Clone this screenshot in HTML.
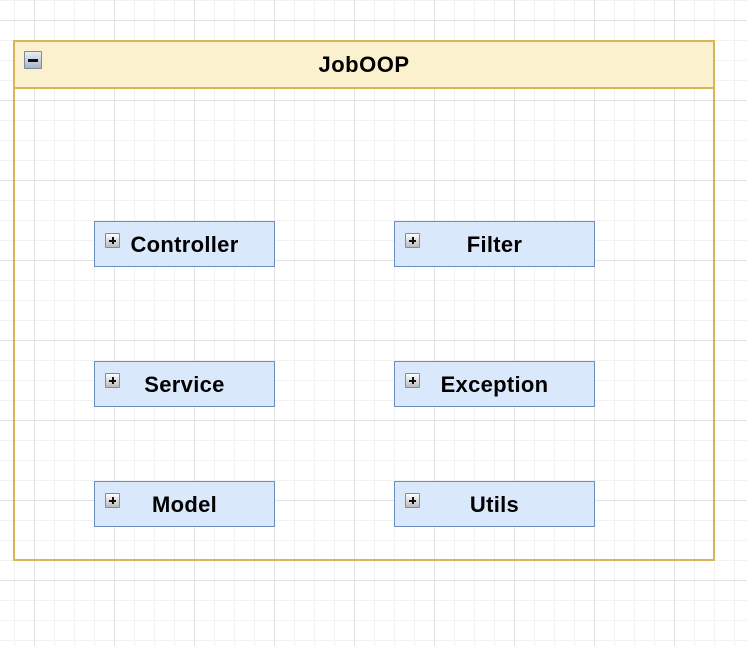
<!DOCTYPE html>
<html><head><style>
body{margin:0;width:747px;height:646px;overflow:hidden;font-family:"Liberation Sans",Arial,sans-serif;
background-color:#fff;
background-image:
linear-gradient(to right,#e2e2e2 1px,transparent 1px),
linear-gradient(to bottom,#e2e2e2 1px,transparent 1px),
linear-gradient(to right,#f2f2f2 1px,transparent 1px),
linear-gradient(to bottom,#f2f2f2 1px,transparent 1px);
background-size:80px 80px,80px 80px,20px 20px,20px 20px;
background-position:34px 20px,34px 20px,14px 0,14px 0;}
.c{position:absolute;left:13px;top:40px;width:698px;height:517px;border:2px solid #d6b656;}
.h{position:absolute;left:0;top:0;width:698px;height:45px;background:#fcf1cf;border-bottom:2px solid #d6b656;text-align:center;line-height:46px;font-weight:bold;font-size:22px;letter-spacing:0.5px;}
.n{position:absolute;width:179px;height:44px;background:#dae8fc;border:1px solid #6c8ebf;font-weight:bold;font-size:22px;line-height:46px;text-align:center;letter-spacing:0.3px;}
.i{position:absolute;left:10px;top:11px;width:15px;height:15px;border:1px solid #8a8a8a;background:linear-gradient(#fff,#bbb);box-sizing:border-box;border-radius:1px;}
.i:before{content:"";position:absolute;left:3px;top:5.5px;width:7px;height:2px;background:#111;}
.p:after{content:"";position:absolute;left:5.5px;top:3px;width:2px;height:7px;background:#111;}
.m{left:9px;top:9px;width:18px;height:18px;border-color:#7a8a9a;background:linear-gradient(#e8eef3,#a8b6c2);}
.m:before{left:3px;top:6.5px;width:10px;height:3px;}
</style></head><body>
<div class="c"><div class="h"><div class="i m"></div>JobOOP</div></div>
<div class="n" style="left:94px;top:221px"><div class="i p"></div>Controller</div>
<div class="n" style="left:394px;top:221px;width:199px"><div class="i p"></div>Filter</div>
<div class="n" style="left:94px;top:361px"><div class="i p"></div>Service</div>
<div class="n" style="left:394px;top:361px;width:199px"><div class="i p"></div>Exception</div>
<div class="n" style="left:94px;top:481px"><div class="i p"></div>Model</div>
<div class="n" style="left:394px;top:481px;width:199px"><div class="i p"></div>Utils</div>
</body></html>
